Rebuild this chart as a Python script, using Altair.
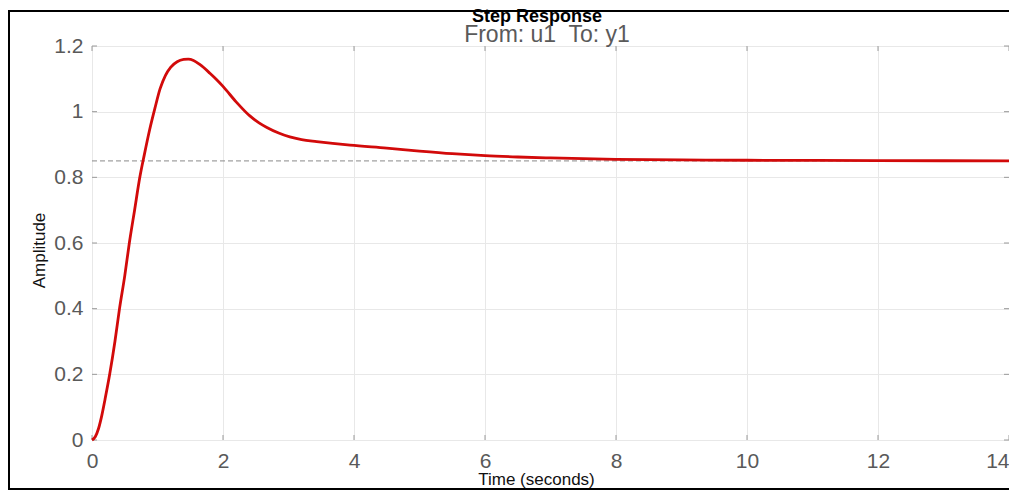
import altair as alt
import pandas as pd

# Step response samples
time_s = [0, 0.05, 0.1, 0.15, 0.2, 0.27, 0.35, 0.42, 0.5, 0.57, 0.65, 0.73, 0.8,
          0.88, 0.96, 1.04, 1.12, 1.2, 1.3, 1.4, 1.47, 1.55, 1.65, 1.8, 1.9, 2.0,
          2.2, 2.41, 2.55, 2.67, 2.85, 3.02, 3.2, 3.43, 3.94, 4.5, 5.0, 5.5, 6.0,
          6.5, 7.0, 8.0, 9.0, 10.0, 12.0, 14.0]
amplitude = [0, 0.01, 0.035, 0.075, 0.125, 0.2, 0.3, 0.4, 0.5, 0.6, 0.7, 0.8, 0.87,
             0.945, 1.01, 1.07, 1.11, 1.135, 1.152, 1.159, 1.16, 1.156, 1.143,
             1.117, 1.098, 1.077, 1.03, 0.987, 0.966, 0.952, 0.935, 0.923, 0.915,
             0.909, 0.898, 0.889, 0.88, 0.872, 0.866, 0.862, 0.859, 0.855, 0.853,
             0.852, 0.851, 0.85]
steady_state = [0.85]
x_ticks = [0, 2, 4, 6, 8, 10, 12, 14]
y_ticks = [0, 0.2, 0.4, 0.6, 0.8, 1.0, 1.2]
title_text = ["Step Response"]
subtitle_text = ["From: u1\u00a0 To: y1"]

FONT = "Liberation Sans"
W, H = 917, 394
TICK = 5

df = pd.DataFrame({"t": time_s, "a": amplitude})
ss = pd.DataFrame({"a": steady_state})
xt = pd.DataFrame({"t": x_ticks})
yt = pd.DataFrame({"a": y_ticks})
one = pd.DataFrame({"k": [0]})

xs = alt.Scale(domain=[0, 14], nice=False, zero=True)
ys = alt.Scale(domain=[0, 1.2], nice=False, zero=True)

x_axis = alt.Axis(values=x_ticks, format="d", title="Time (seconds)",
                  grid=True, gridColor="#e8e8e8", ticks=False, domain=False,
                  labelFont=FONT, labelFontSize=21, labelColor="#595959",
                  labelPadding=10, labelFlush=False,
                  labelAlign={"condition": {"test": "datum.value >= 14", "value": "right"},
                              "value": "center"},
                  titleFont=FONT, titleFontSize=17, titleFontWeight="normal",
                  titleColor="#111111", titleX=444, titleY=44,
                  titleBaseline="alphabetic", titleAnchor="middle")
y_axis = alt.Axis(values=y_ticks, format="~g", title="Amplitude",
                  grid=True, gridColor="#e8e8e8", ticks=False, domain=False,
                  labelFont=FONT, labelFontSize=21, labelColor="#595959",
                  labelPadding=9, labelFlush=False,
                  titleFont=FONT, titleFontSize=17, titleFontWeight="normal",
                  titleColor="#111111", titleX=-48, titleY=204, titleAngle=270,
                  titleBaseline="alphabetic", titleAlign="center")

curve = alt.Chart(df).mark_line(color="#d20a0a", strokeWidth=2.8,
                                interpolate="monotone").encode(
    x=alt.X("t:Q", scale=xs, axis=x_axis),
    y=alt.Y("a:Q", scale=ys, axis=y_axis),
)

ss_rule = alt.Chart(ss).mark_rule(color="#8a8a8a", strokeWidth=1,
                                  strokeDash=[5, 3]).encode(
    y=alt.Y("a:Q", scale=ys),
)

# inward box ticks (MATLAB style)
tick_col = "#9a9a9a"
xt_bottom = alt.Chart(xt).mark_rule(color=tick_col, strokeWidth=1).encode(
    x=alt.X("t:Q", scale=xs), y=alt.value(H), y2=alt.value(H - TICK))
xt_top = alt.Chart(xt).mark_rule(color=tick_col, strokeWidth=1).encode(
    x=alt.X("t:Q", scale=xs), y=alt.value(0), y2=alt.value(TICK))
yt_left = alt.Chart(yt).mark_rule(color=tick_col, strokeWidth=1).encode(
    y=alt.Y("a:Q", scale=ys), x=alt.value(0), x2=alt.value(TICK))
yt_right = alt.Chart(yt).mark_rule(color=tick_col, strokeWidth=1).encode(
    y=alt.Y("a:Q", scale=ys), x=alt.value(W), x2=alt.value(W - TICK))

title_mark = alt.Chart(pd.DataFrame({"s": title_text})).mark_text(
    font=FONT, fontSize=18, fontWeight="bold", color="black",
    align="center", baseline="alphabetic").encode(
    text="s:N", x=alt.value(445), y=alt.value(-24))

subtitle_mark = alt.Chart(pd.DataFrame({"s": subtitle_text})).mark_text(
    font=FONT, fontSize=23, color="#5a5a5a",
    align="center", baseline="alphabetic").encode(
    text="s:N", x=alt.value(455), y=alt.value(-4))

# outer figure border (left, top, bottom; right edge lies off-screen)
frame_style = dict(color="black", strokeWidth=2, strokeCap="square")
frame_top = alt.Chart(one).mark_rule(**frame_style).encode(
    x=alt.value(-83), x2=alt.value(1200), y=alt.value(-35))
frame_bottom = alt.Chart(one).mark_rule(**frame_style).encode(
    x=alt.value(-83), x2=alt.value(1200), y=alt.value(443))
frame_left = alt.Chart(one).mark_rule(**frame_style).encode(
    x=alt.value(-83), y=alt.value(-35), y2=alt.value(443))

chart = alt.layer(ss_rule, xt_bottom, xt_top, yt_left, yt_right, curve,
                  title_mark, subtitle_mark,
                  frame_top, frame_bottom, frame_left).properties(
    width=W, height=H,
    autosize=alt.AutoSizeParams(type="none"),
    padding={"left": 84, "top": 38, "right": 0, "bottom": 50},
).configure_view(stroke="#9a9a9a", strokeWidth=1).configure(background="white")

chart.save("out.html", embed_options={"renderer": "svg", "actions": False})
